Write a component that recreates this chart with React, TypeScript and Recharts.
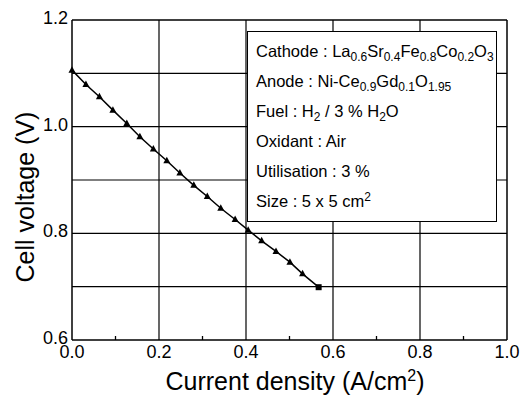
import React from 'react';
import { LineChart, Line, XAxis, YAxis, ReferenceLine } from 'recharts';

// current density (A/cm2) and cell voltage (V)
const currentDensity = [0, 0.032, 0.063, 0.094, 0.126, 0.156, 0.187, 0.218, 0.248, 0.28, 0.311, 0.342, 0.375, 0.405, 0.436, 0.469, 0.501, 0.53, 0.567];
const cellVoltage = [1.106, 1.079, 1.056, 1.031, 1.006, 0.981, 0.958, 0.936, 0.913, 0.89, 0.869, 0.847, 0.826, 0.806, 0.786, 0.766, 0.746, 0.724, 0.699];

const xTicks = [0, 0.1, 0.2, 0.3, 0.4, 0.5, 0.6, 0.7, 0.8, 0.9, 1.0];
const yTicks = [0.6, 0.8, 1.0, 1.2];
const xGrid = [0.2, 0.4, 0.6, 0.8];
const yGrid = [0.7, 0.8, 0.9, 1.0, 1.1];

const data = currentDensity.map((j, i) => ({ j, v: cellVoltage[i] }));

const FONT = '"Liberation Sans", Arial, Helvetica, sans-serif';

function XTick(props: any) {
  const { x, y, payload } = props;
  const v = payload.value;
  const major = Math.round(v * 10) % 2 === 0;
  if (!major) {
    return <line x1={x} x2={x} y1={y} y2={y - 4} stroke="#000" strokeWidth={1.3} />;
  }
  return (
    <text x={x} y={y + 18} textAnchor="middle" fontSize={18} fontFamily={FONT} fill="#000">
      {v.toFixed(1)}
    </text>
  );
}

function YTick(props: any) {
  const { x, y, payload } = props;
  return (
    <text x={x} y={y + 4} textAnchor="end" fontSize={18} fontFamily={FONT} fill="#000">
      {payload.value.toFixed(1)}
    </text>
  );
}

function Marker(props: any) {
  const { cx, cy, index } = props;
  if (cx == null || cy == null) return null;
  if (index === data.length - 1) {
    return <rect key={index} x={cx - 3} y={cy - 3} width={6} height={6} fill="#000" />;
  }
  return <path key={index} d={`M${cx},${cy - 4}L${cx + 3.5},${cy + 2.5}L${cx - 3.5},${cy + 2.5}Z`} fill="#000" />;
}

const sub = { fontSize: 12, verticalAlign: -4, lineHeight: 0 } as const;
const sup = { fontSize: 12, verticalAlign: 6, lineHeight: 0 } as const;
const row = { height: 30, lineHeight: '30px', whiteSpace: 'nowrap' } as const;

export default function App() {
  return (
    <div style={{ position: 'absolute', left: 0, top: 0, width: 523, height: 398, background: '#fff' }}>
      <LineChart width={523} height={398} data={data} margin={{ top: 20, right: 16, bottom: 0, left: 0 }}>
        {yGrid.map((g) => (
          <ReferenceLine key={'y' + g} y={g} stroke="#000" strokeWidth={1.2} />
        ))}
        {xGrid.map((g) => (
          <ReferenceLine key={'x' + g} x={g} stroke="#000" strokeWidth={1.2} />
        ))}
        <ReferenceLine x={1.0} stroke="#000" strokeWidth={1.5} />
        <ReferenceLine y={1.2} stroke="#000" strokeWidth={1.5} />
        <XAxis
          type="number"
          dataKey="j"
          domain={[0, 1]}
          ticks={xTicks}
          interval={0}
          height={58}
          tickSize={0}
          tickMargin={0}
          tickLine={false}
          tick={<XTick />}
          axisLine={{ stroke: '#000', strokeWidth: 1.5 }}
          label={{
            content: () => (
              <text x={295} y={390} textAnchor="middle" fontSize={25} fontFamily={FONT} fill="#000">
                Current density (A/cm<tspan fontSize={16} dy={-9}>2</tspan>
                <tspan dy={9}>)</tspan>
              </text>
            ),
          }}
        />
        <YAxis
          type="number"
          domain={[0.6, 1.2]}
          ticks={yTicks}
          interval={0}
          width={72}
          tickSize={0}
          tickMargin={4}
          tickLine={false}
          tick={<YTick />}
          axisLine={{ stroke: '#000', strokeWidth: 1.5 }}
          label={{
            content: () => (
              <text
                transform="translate(34,197) rotate(-90)"
                textAnchor="middle"
                fontSize={25}
                fontFamily={FONT}
                fill="#000"
              >
                Cell voltage (V)
              </text>
            ),
          }}
        />
        <Line
          type="linear"
          dataKey="v"
          stroke="#000"
          strokeWidth={1.5}
          dot={Marker}
          activeDot={false}
          isAnimationActive={false}
        />
      </LineChart>
      <div
        style={{
          position: 'absolute',
          left: 247,
          top: 31,
          width: 250,
          height: 191,
          boxSizing: 'border-box',
          border: '1.5px solid #000',
          background: '#fff',
          fontFamily: FONT,
          fontSize: 16.5,
          color: '#000',
          paddingLeft: 8,
          paddingTop: 4,
        }}
      >
        <div style={row}>
          Cathode : La<span style={sub}>0.6</span>Sr<span style={sub}>0.4</span>Fe<span style={sub}>0.8</span>Co
          <span style={sub}>0.2</span>O<span style={sub}>3</span>
        </div>
        <div style={row}>
          Anode : Ni-Ce<span style={sub}>0.9</span>Gd<span style={sub}>0.1</span>O<span style={sub}>1.95</span>
        </div>
        <div style={row}>
          Fuel : H<span style={sub}>2</span> / 3 % H<span style={sub}>2</span>O
        </div>
        <div style={row}>Oxidant : Air</div>
        <div style={row}>Utilisation : 3 %</div>
        <div style={row}>
          Size : 5 x 5 cm<span style={sup}>2</span>
        </div>
      </div>
    </div>
  );
}
